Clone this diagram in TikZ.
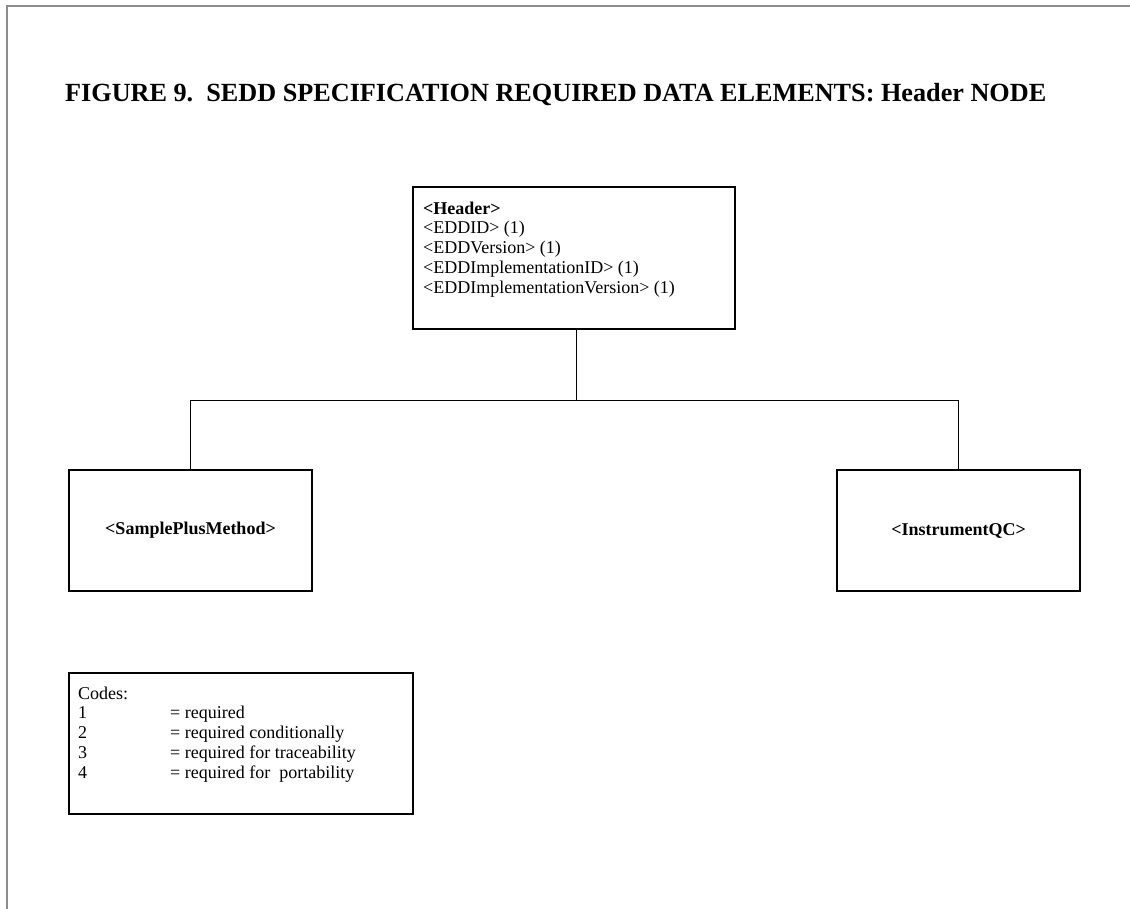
\documentclass[tikz,border=0pt]{standalone}
\usepackage{fontspec}
\setmainfont{Liberation Serif}
\begin{document}
\begin{tikzpicture}[x=1pt,y=-1pt,
  elembox/.style={draw=black, line width=1.2pt, rectangle, inner sep=0pt},
  conn/.style={draw=black, line width=1pt},
  bodytext/.style={inner sep=0pt, align=left, font=\fontsize{18}{19.8}\selectfont},
  boldlabel/.style={font=\fontsize{18}{20}\selectfont\bfseries}]
\useasboundingbox (0,0) rectangle (1130,909);
\fill[white] (0,0) rectangle (1130,909);

% page frame (left and top edges)
\draw[gray!90, line width=1.4pt] (7,909) -- (7,6) -- (1130,6);

% title
\node[anchor=base west, inner sep=0pt, font=\fontsize{26.2}{30}\selectfont\bfseries] (title) at (65,102)
  {FIGURE 9.\ \ SEDD SPECIFICATION REQUIRED DATA ELEMENTS: Header NODE};

% Header element box
\node[elembox, minimum width=322pt, minimum height=142pt] (hdr) at (574,258) {};
\node[bodytext, anchor=north west] (hdrtext) at (423,201.5)
  {\textbf{<Header>}\\
   <EDDID> (1)\\
   <EDDVersion> (1)\\
   <EDDImplementationID> (1)\\
   <EDDImplementationVersion> (1)};

% child element boxes
\node[elembox, minimum width=243pt, minimum height=121pt, boldlabel] (spm) at (190.5,530.5) {<SamplePlusMethod>};
\node[elembox, minimum width=243pt, minimum height=121pt, boldlabel] (iqc) at (958.5,530.5) {<InstrumentQC>};

% tree connectors
\coordinate (bus) at (576,400);
\draw[conn] (hdr.south -| bus) -- (bus);
\draw[conn] (bus) -| (spm.north);
\draw[conn] (bus) -| (iqc.north);

% legend of codes
\node[elembox, minimum width=344pt, minimum height=141pt] (codes) at (241,743.5) {};
\node[bodytext, anchor=north west] (codestext) at (78,686.5)
  {Codes:\\
   \makebox[92pt][l]{1}= required\\
   \makebox[92pt][l]{2}= required conditionally\\
   \makebox[92pt][l]{3}= required for traceability\\
   \makebox[92pt][l]{4}= required for\ \ portability};
\end{tikzpicture}
\end{document}
